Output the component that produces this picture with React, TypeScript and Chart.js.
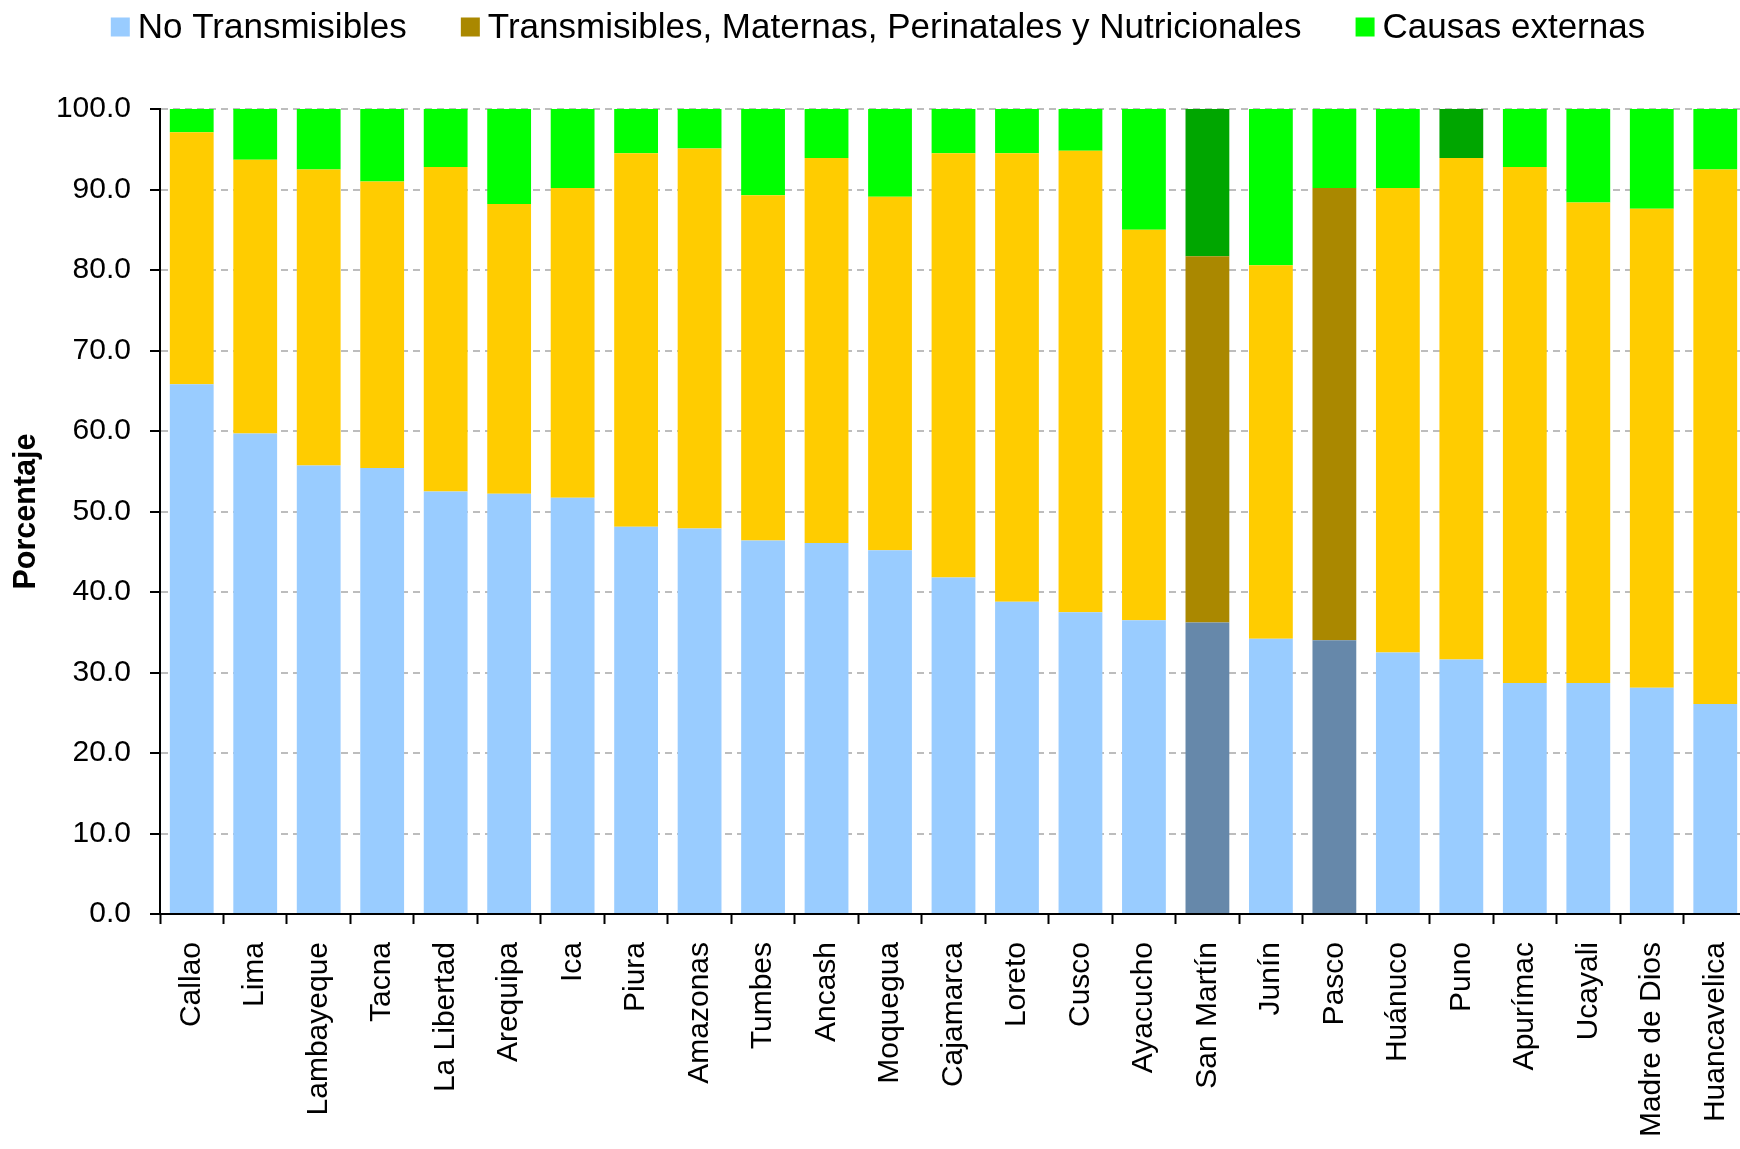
import React, { useEffect, useRef } from 'react';
import { Chart, registerables } from 'chart.js';

Chart.register(...registerables);

const FONT = "'Liberation Sans', Arial, Helvetica, sans-serif";

// ---- Data ----
const categories = [
  'Callao', 'Lima', 'Lambayeque', 'Tacna', 'La Libertad', 'Arequipa', 'Ica', 'Piura',
  'Amazonas', 'Tumbes', 'Ancash', 'Moquegua', 'Cajamarca', 'Loreto', 'Cusco', 'Ayacucho',
  'San Martín', 'Junín', 'Pasco', 'Huánuco', 'Puno', 'Apurímac', 'Ucayali', 'Madre de Dios',
  'Huancavelica',
];

const noTransmisibles = [
  65.8, 59.7, 55.7, 55.4, 52.5, 52.2, 51.7, 48.1, 47.9, 46.4, 46.1, 45.2, 41.8, 38.8, 37.5,
  36.5, 36.2, 34.2, 34.0, 32.5, 31.6, 28.7, 28.7, 28.1, 26.1,
];

const transmisibles = [
  31.3, 34.0, 36.8, 35.6, 40.3, 36.0, 38.5, 46.4, 47.2, 42.9, 47.8, 43.9, 52.7, 55.7, 57.3,
  48.5, 45.5, 46.4, 56.2, 57.7, 62.3, 64.1, 59.7, 59.5, 66.4,
];

const causasExternas = [
  2.9, 6.3, 7.5, 9.0, 7.2, 11.8, 9.8, 5.5, 4.9, 10.7, 6.1, 10.9, 5.5, 5.5, 5.2,
  15.0, 18.3, 19.4, 9.8, 9.8, 6.1, 7.2, 11.6, 12.4, 7.5,
];

const seriesLabels = [
  'No Transmisibles',
  'Transmisibles, Maternas, Perinatales y Nutricionales',
  'Causas externas',
];

// highlighted bars (darker shades)
const destacadosNoTrans = ['San Martín', 'Pasco'];
const destacadosTrans = ['San Martín', 'Pasco'];
const destacadosCausas = ['San Martín', 'Puno'];

const yTicks = [0, 10, 20, 30, 40, 50, 60, 70, 80, 90, 100];

// ---- Styles ----
const COLORS = {
  noTrans: '#99CCFF',
  noTransDark: '#6688AA',
  trans: '#FFCC00',
  transDark: '#AA8800',
  causas: '#00FF00',
  causasDark: '#00A600',
};
const legendColors = [COLORS.noTrans, COLORS.transDark, COLORS.causas];

const colorFor = (list: string[], normal: string, dark: string) =>
  categories.map((c) => (list.includes(c) ? dark : normal));

const legendPlugin = {
  id: 'customTopLegend',
  afterDraw(chart: any) {
    const ctx = chart.ctx as CanvasRenderingContext2D;
    const fontSize = 35;
    const box = 19;
    const gap = 8;
    const spacing = 54;
    const cy = 27;
    ctx.save();
    ctx.font = `${fontSize}px ${FONT}`;
    const widths = seriesLabels.map((t) => ctx.measureText(t).width);
    const total =
      widths.reduce((a, w) => a + box + gap + w, 0) + spacing * (seriesLabels.length - 1);
    let x = 878 - total / 2;
    seriesLabels.forEach((t, i) => {
      ctx.fillStyle = legendColors[i];
      ctx.fillRect(x, cy - box / 2, box, box);
      ctx.fillStyle = '#000';
      ctx.textAlign = 'left';
      ctx.textBaseline = 'middle';
      ctx.fillText(t, x + box + gap, cy + 1);
      x += box + gap + widths[i] + spacing;
    });
    ctx.restore();
  },
};

export default function App() {
  const canvasRef = useRef<HTMLCanvasElement | null>(null);

  useEffect(() => {
    if (!canvasRef.current) return;
    const chart = new Chart(canvasRef.current, {
      type: 'bar',
      data: {
        labels: categories,
        datasets: [
          {
            label: seriesLabels[0],
            data: noTransmisibles,
            backgroundColor: colorFor(destacadosNoTrans, COLORS.noTrans, COLORS.noTransDark),
            borderWidth: 0,
          },
          {
            label: seriesLabels[1],
            data: transmisibles,
            backgroundColor: colorFor(destacadosTrans, COLORS.trans, COLORS.transDark),
            borderWidth: 0,
          },
          {
            label: seriesLabels[2],
            data: causasExternas,
            backgroundColor: colorFor(destacadosCausas, COLORS.causas, COLORS.causasDark),
            borderWidth: 0,
          },
        ],
      },
      options: {
        animation: false,
        responsive: true,
        maintainAspectRatio: false,
        datasets: {
          bar: { categoryPercentage: 1, barPercentage: 0.69 },
        },
        layout: { padding: { top: 109, left: 0, right: 1, bottom: 0 } },
        plugins: {
          legend: { display: false },
          tooltip: { enabled: false },
        },
        scales: {
          x: {
            stacked: true,
            offset: true,
            grid: {
              display: true,
              drawOnChartArea: false,
              drawTicks: true,
              tickLength: 10,
              tickColor: '#000',
              tickWidth: 2,
              offset: true,
            },
            border: { display: true, color: '#000', width: 2 },
            ticks: {
              color: '#000',
              font: { family: FONT, size: 30 },
              maxRotation: 90,
              minRotation: 90,
              autoSkip: false,
              padding: 18,
            },
            afterFit: (scale: any) => {
              scale.height = 235;
              scale.paddingLeft = 0;
              scale.paddingRight = 0;
            },
          },
          y: {
            stacked: true,
            min: 0,
            max: 100,
            afterBuildTicks: (scale: any) => {
              scale.ticks = yTicks.map((v) => ({ value: v }));
            },
            grid: {
              color: '#BDBDBD',
              lineWidth: 2,
              tickColor: '#000',
              tickWidth: 2,
              tickLength: 10,
              tickBorderDash: [],
            },
            border: { display: true, color: '#000', width: 2, dash: [7, 5] },
            ticks: {
              color: '#000',
              font: { family: FONT, size: 30 },
              padding: 19,
              callback: (v: any) => Number(v).toFixed(1),
            },
            title: {
              display: true,
              text: 'Porcentaje',
              color: '#000',
              font: { family: FONT, size: 30.5, weight: 'bold' },
              padding: { top: 8, bottom: 0 },
            },
            afterFit: (scale: any) => {
              scale.width = 160;
              scale.paddingTop = 0;
              scale.paddingBottom = 0;
            },
          },
        },
      },
      plugins: [legendPlugin],
    });
    return () => chart.destroy();
  }, []);

  return (
    <div
      style={{
        position: 'fixed',
        left: 0,
        top: 0,
        width: 1740,
        height: 1149,
        overflow: 'hidden',
        background: '#fff',
      }}
    >
      <div style={{ position: 'absolute', left: 0, top: 0, width: 1748, height: 1149 }}>
        <canvas ref={canvasRef} />
      </div>
    </div>
  );
}
